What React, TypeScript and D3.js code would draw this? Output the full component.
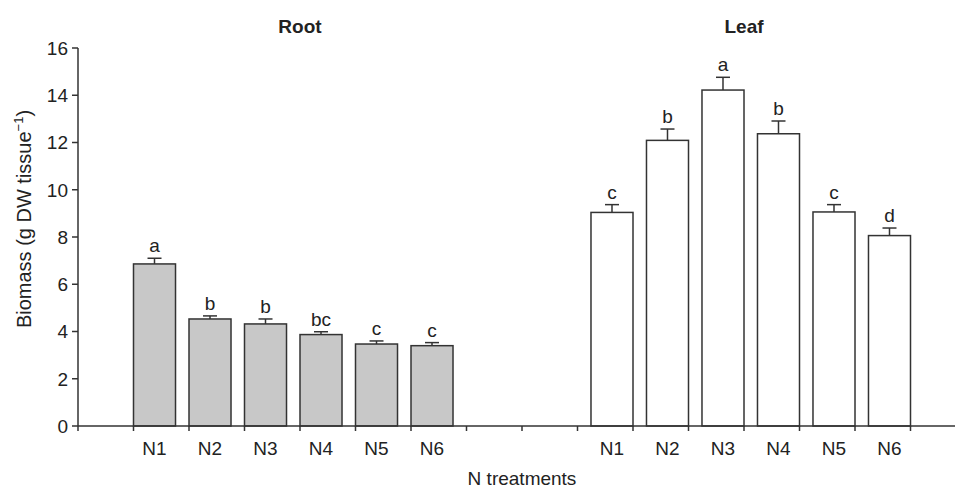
import React from "react";
import * as d3 from "d3";

const treatments = ["N1", "N2", "N3", "N4", "N5", "N6"];
const rootMean = [6.86, 4.53, 4.32, 3.87, 3.47, 3.4];
const rootErr = [0.24, 0.13, 0.21, 0.12, 0.13, 0.13];
const rootLetters = ["a", "b", "b", "bc", "c", "c"];
const leafMean = [9.04, 12.09, 14.22, 12.37, 9.06, 8.06];
const leafErr = [0.33, 0.48, 0.54, 0.54, 0.31, 0.32];
const leafLetters = ["c", "b", "a", "b", "c", "d"];
const yTicks = [0, 2, 4, 6, 8, 10, 12, 14, 16];
const rootSlots = [1, 2, 3, 4, 5, 6];
const leafSlots = [9, 10, 11, 12, 13, 14];
const slotTicks = d3.range(0, 16);

const W = 955;
const H = 489;
const FONT = "'Liberation Sans', Arial, Helvetica, sans-serif";
const INK = "#222";
const LINE = "#333";
const FS = 19;

export default function App() {
  const x = d3.scaleLinear().domain([0, 15]).range([78, 910.5]);
  const y = d3.scaleLinear().domain([0, 16]).range([426, 48]);
  const slotW = x(1) - x(0);
  const barW = slotW * 0.757;
  const capW = 14;

  const bars = [
    ...treatments.map((t, i) => ({
      key: "r" + i, label: t, mean: rootMean[i], err: rootErr[i], letter: rootLetters[i],
      x0: x(rootSlots[i]), fill: "#c8c8c8",
    })),
    ...treatments.map((t, i) => ({
      key: "l" + i, label: t, mean: leafMean[i], err: leafErr[i], letter: leafLetters[i],
      x0: x(leafSlots[i] + 1) - barW, fill: "#ffffff",
    })),
  ];

  return (
    <svg width={W} height={H} style={{ position: "absolute", left: 0, top: 0 }} fontFamily={FONT}>
      <rect width={W} height={H} fill="#fff" />
      {/* titles */}
      <text x={(x(1) + x(7)) / 2} y={33} textAnchor="middle" fontSize={FS} fontWeight="bold" fill={INK}>Root</text>
      <text x={(x(9) + x(15)) / 2} y={33} textAnchor="middle" fontSize={FS} fontWeight="bold" fill={INK}>Leaf</text>

      {/* bars */}
      {bars.map((b) => {
        const cx = b.x0 + barW / 2;
        const top = y(b.mean + b.err);
        return (
          <g key={b.key}>
            <line x1={cx} x2={cx} y1={y(b.mean)} y2={top} stroke={LINE} strokeWidth={1.5} />
            <line x1={cx - capW / 2} x2={cx + capW / 2} y1={top} y2={top} stroke={LINE} strokeWidth={1.5} />
            <rect x={b.x0} y={y(b.mean)} width={barW} height={y(0) - y(b.mean)} fill={b.fill} stroke={LINE} strokeWidth={1.5} />
            <text x={cx} y={top - 6} textAnchor="middle" fontSize={FS} fill={INK}>{b.letter}</text>
            <text x={cx} y={455} textAnchor="middle" fontSize={FS} fill={INK}>{b.label}</text>
          </g>
        );
      })}

      {/* y axis */}
      <line x1={x(0)} x2={x(0)} y1={y(16)} y2={y(0)} stroke={LINE} strokeWidth={1.5} />
      {yTicks.map((t) => (
        <g key={t}>
          <line x1={x(0) - 6} x2={x(0)} y1={y(t)} y2={y(t)} stroke={LINE} strokeWidth={1.5} />
          <text x={x(0) - 10} y={y(t)} dy="0.36em" textAnchor="end" fontSize={FS} fill={INK}>{t}</text>
        </g>
      ))}

      {/* x axis */}
      <line x1={x(0)} x2={W} y1={y(0)} y2={y(0)} stroke={LINE} strokeWidth={1.5} />
      {slotTicks.map((s) => (
        <line key={s} x1={x(s)} x2={x(s)} y1={y(0)} y2={y(0) + 5} stroke={LINE} strokeWidth={1.5} />
      ))}

      {/* axis titles */}
      <text x={522} y={485} textAnchor="middle" fontSize={FS} fill={INK}>N treatments</text>
      <text transform={`translate(31, 219) rotate(-90)`} textAnchor="middle" fontSize={20} fill={INK}>
        Biomass (g DW tissue
        <tspan fontSize={13} dy={-8}>−1</tspan>
        <tspan dy={8}>)</tspan>
      </text>
    </svg>
  );
}
